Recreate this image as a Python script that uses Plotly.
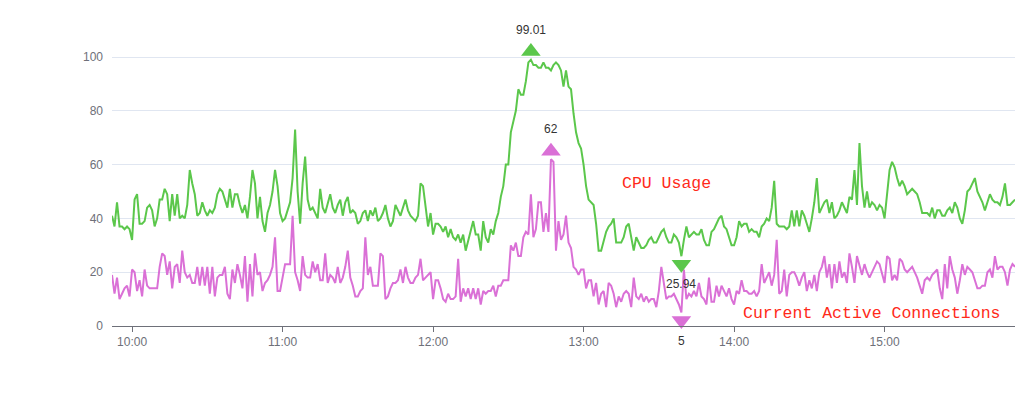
import pandas as pd
import plotly.graph_objects as go

start_time = "2024-01-01 09:52"
n_points = 361

cpu_usage = [
    41, 37, 46, 37, 37, 36, 37, 36, 32, 47,
    49, 38, 38, 39, 44, 45, 43, 37, 40, 47,
    47, 51, 49, 39, 49, 41, 49, 40, 41, 40,
    45, 58, 53, 49, 41, 42, 46, 43, 41, 43,
    42, 44, 49, 51, 50, 47, 44, 51, 44, 49,
    49, 45, 42, 45, 40, 48, 58, 53, 40, 48,
    39, 35, 42, 45, 50, 58, 52, 42, 39, 40,
    43, 46, 55, 73, 50, 38, 53, 63, 47, 43,
    44, 42, 40, 51, 44, 42, 46, 49, 44, 42,
    45, 47, 41, 46, 48, 42, 43, 42, 38, 39,
    42, 43, 39, 43, 41, 44, 39, 40, 42, 45,
    40, 37, 39, 45, 43, 41, 44, 47, 43, 41,
    40, 39, 41, 53, 52, 44, 37, 42, 34, 38,
    38, 37, 35, 37, 33, 36, 33, 32, 34, 31,
    34, 28, 32, 36, 39, 34, 34, 28, 39, 33,
    31, 36, 34, 39, 42, 48, 52, 60, 60, 72,
    76, 80, 88, 86, 86, 91, 98, 99.01, 97, 97,
    96, 96, 98, 96, 96, 95, 97, 98, 97, 95,
    89, 95, 89, 88, 79, 72, 68, 66, 60, 52,
    47, 46, 45, 38, 28, 28, 32, 35, 37, 38,
    40, 31, 31, 31, 33, 37, 38, 33, 28, 33,
    31, 29, 29, 30, 32, 33, 31, 31, 33, 35,
    36, 33, 31, 31, 34, 33, 31, 25.94, 32, 37,
    33, 34, 35, 34, 34, 36, 32, 30, 30, 35,
    36, 38, 40, 41, 37, 36, 33, 30, 30, 33,
    39, 37, 38, 38, 35, 36, 35, 35, 33, 37,
    38, 40, 39, 44, 54, 38, 37, 37, 37, 36,
    37, 43, 37, 43, 37, 43, 41, 38, 35, 40,
    46, 55, 42, 44, 46, 47, 42, 46, 40, 41,
    43, 46, 44, 42, 48, 47, 58, 45, 68, 52,
    44, 50, 44, 46, 45, 43, 45, 44, 40, 48,
    58, 61, 59, 55, 52, 54, 52, 49, 50, 51,
    50, 49, 46, 42, 42, 42, 41, 44, 40, 43,
    43, 41, 41, 43, 44, 42, 46, 44, 40, 38,
    43, 50, 51, 53, 55, 50, 48, 46, 43, 46,
    49, 47, 46, 46, 45, 48, 53, 45, 45, 46,
    47,
]

active_connections = [
    19, 12, 18, 10, 12, 14, 15, 11, 21, 20,
    13, 17, 11, 21, 15, 14, 14, 14, 14, 22,
    27, 26, 19, 24, 14, 22, 23, 16, 28, 20,
    18, 19, 16, 16, 22, 15, 22, 15, 22, 12,
    22, 11, 18, 19, 19, 22, 12, 10, 21, 16,
    23, 19, 14, 26, 9, 23, 11, 27, 19, 20,
    13, 16, 17, 19, 22, 33, 13, 13, 18, 23,
    23, 23, 41, 20, 17, 13, 26, 19, 18, 18,
    24, 20, 23, 17, 17, 27, 16, 19, 18, 16,
    22, 16, 18, 22, 28, 18, 15, 11, 11, 13,
    14, 33, 19, 22, 15, 15, 15, 27, 26, 10,
    11, 14, 16, 16, 17, 21, 16, 22, 18, 16,
    16, 18, 19, 25, 17, 18, 19, 20, 10, 17,
    17, 14, 10, 9, 12, 10, 10, 11, 25, 9,
    14, 11, 14, 10, 14, 10, 14, 8, 13, 12,
    13, 13, 15, 11, 15, 15, 17, 17, 17, 30,
    28, 31, 26, 26, 33, 35, 34, 49, 33, 36,
    46, 46, 35, 42, 35, 62, 61, 28, 39, 32,
    34, 41, 31, 29, 22, 21, 19, 21, 21, 14,
    17, 17, 11, 16, 8, 12, 13, 7, 16, 15,
    12, 7, 11, 9, 12, 13, 12, 7, 18, 11,
    10, 12, 9, 11, 9, 10, 10, 7, 13, 22,
    16, 10, 11, 11, 12, 10, 8, 5, 21, 10,
    12, 11, 13, 11, 16, 11, 10, 8, 18, 9,
    9, 15, 11, 15, 13, 11, 14, 10, 8, 13,
    12, 17, 13, 13, 12, 12, 13, 11, 13, 23,
    16, 18, 20, 15, 19, 32, 12, 13, 21, 11,
    19, 20, 20, 18, 15, 18, 20, 13, 17, 14,
    19, 13, 20, 22, 26, 18, 23, 14, 23, 16,
    24, 18, 20, 16, 27, 22, 16, 26, 22, 19,
    23, 20, 18, 20, 22, 24, 23, 19, 16, 26,
    25, 17, 19, 17, 25, 24, 21, 20, 21, 22,
    20, 18, 15, 12, 17, 18, 17, 19, 20, 21,
    14, 10, 23, 14, 26, 21, 18, 12, 17, 23,
    19, 22, 21, 20, 17, 14, 14, 15, 15, 20,
    21, 18, 26, 21, 22, 22, 20, 15, 21, 23,
    22,
]

series_names = ["CPU Usage", "Current Active Connections"]
tick_labels = ["10:00", "11:00", "12:00", "13:00", "14:00", "15:00"]
y_ticks = [0, 20, 40, 60, 80, 100]

times = pd.date_range(start_time, periods=n_points, freq="min")
tick_vals = [pd.Timestamp("2024-01-01 " + t) for t in tick_labels]

GREEN = "#5bc74b"
PURPLE = "#da70d6"
AXIS = "#6e7079"
GRID = "#e0e6f1"
FONT = "Liberation Sans, Arial, sans-serif"

fig = go.Figure()
series = [(cpu_usage, GREEN), (active_connections, PURPLE)]
for (vals, color), name in zip(series, series_names):
    fig.add_trace(go.Scatter(x=times, y=vals, mode="lines", name=name,
                             line=dict(color=color, width=2), hoverinfo="x+y"))

MARK_OFF = 3.0  # marker offset from point, in axis units
annotations = []
for vals, color in series:
    imax = max(range(len(vals)), key=lambda i: vals[i])
    imin = min(range(len(vals)), key=lambda i: vals[i])
    fig.add_trace(go.Scatter(
        x=[times[imax], times[imin]],
        y=[vals[imax] + MARK_OFF, vals[imin] - MARK_OFF],
        mode="markers", cliponaxis=False, showlegend=False, hoverinfo="skip",
        marker=dict(symbol=["triangle-up", "triangle-down"], size=17, color=color,
                    line=dict(width=0))))
    for idx, shift in ((imax, 30), (imin, -28)):
        v = vals[idx]
        annotations.append(dict(x=times[idx], y=v, xref="x", yref="y", text=f"{v:g}",
                                showarrow=False, yshift=shift,
                                font=dict(family=FONT, size=12, color="#333333")))

# plot area (page px, body margin removed): x 112..1015, y 18..326 ; 100 units = 269 px
Y_MAX = 308 / 2.69

def px_x(p):
    return (p - 112) / 903.0

def px_y(p):
    return (326 - p) / 308.0

LABEL_FONT = dict(family="Liberation Mono, Courier New, monospace", size=16.5, color="#ff2a1a")
annotations.append(dict(x=px_x(666), y=px_y(183), xref="paper", yref="paper", text=series_names[0],
                        showarrow=False, font=LABEL_FONT, xanchor="center", yanchor="middle"))
annotations.append(dict(x=px_x(871), y=px_y(313), xref="paper", yref="paper", text=series_names[1],
                        showarrow=False, font=LABEL_FONT, xanchor="center", yanchor="middle"))

fig.update_layout(
    width=1016, height=394, autosize=False,
    margin=dict(l=112, r=1, t=18, b=68),
    paper_bgcolor="white", plot_bgcolor="white",
    showlegend=False,
    annotations=annotations,
    font=dict(family=FONT, size=12, color=AXIS),
)
fig.update_xaxes(
    type="date", range=[times[0], times[-1]],
    tickvals=tick_vals, ticktext=tick_labels,
    showgrid=False, showline=True, linecolor=AXIS, linewidth=1,
    ticks="outside", ticklen=5, tickcolor=AXIS,
    tickfont=dict(family=FONT, size=12, color=AXIS), zeroline=False,
)
fig.update_yaxes(
    range=[0, Y_MAX], tickvals=y_ticks, showgrid=True, gridcolor=GRID, gridwidth=1,
    showline=False, zeroline=False, ticks="", ticklabelstandoff=8,
    tickfont=dict(family=FONT, size=12, color=AXIS),
)

fig.write_html(
    "out.html",
    config={"responsive": False, "displayModeBar": False},
    post_script="document.body.style.margin='0px';document.body.style.overflow='hidden';",
)
